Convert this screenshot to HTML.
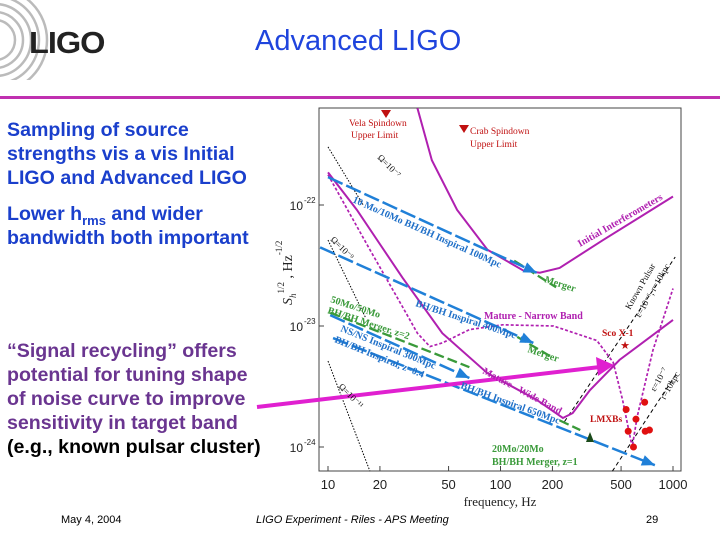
<!DOCTYPE html>
<html><head><meta charset="utf-8"><style>
body{margin:0;width:720px;height:540px;background:#fff;overflow:hidden;position:relative;font-family:"Liberation Sans",sans-serif}
.t{position:absolute;font-weight:bold;font-size:19.6px;line-height:24px;white-space:nowrap}
sub{line-height:0;font-size:13px}
</style></head><body>
<svg style="position:absolute;left:0;top:0" width="60" height="80">
<g fill="none" stroke="#bbb" stroke-width="2.5"><circle cx="-5" cy="40" r="20"/><circle cx="-5" cy="40" r="28"/><circle cx="-5" cy="40" r="36"/><circle cx="-5" cy="40" r="44"/><circle cx="-5" cy="40" r="52"/></g></svg>
<div style="position:absolute;left:29px;top:25px;font-size:31px;font-weight:bold;color:#222;letter-spacing:-1px;transform:scaleX(1.05);transform-origin:left">LIGO</div>
<div style="position:absolute;left:255px;top:25px;font-size:29px;color:#1f44dd">Advanced LIGO</div>
<div style="position:absolute;left:0;top:96px;width:720px;height:3px;background:#c030b0"></div>
<div class="t" style="left:7px;top:118px;color:#1a3fcc">Sampling of source<br>strengths vis a vis Initial<br>LIGO and Advanced LIGO</div>
<div class="t" style="left:7px;top:202px;color:#1a3fcc">Lower h<sub>rms</sub> and wider<br>bandwidth both important</div>
<div class="t" style="left:7px;top:339px;color:#6a3590">“Signal recycling” offers<br>potential for tuning shape<br>of noise curve to improve<br>sensitivity in target band<br><span style="color:#000">(e.g., known pulsar cluster)</span></div>
<div style="position:absolute;left:61px;top:514px;font-size:11px">May 4, 2004</div>
<div style="position:absolute;left:256px;top:514px;font-size:11px;font-style:italic">LIGO Experiment - Riles - APS Meeting</div>
<div style="position:absolute;left:646px;top:514px;font-size:11px">29</div>
<svg id="chart" style="position:absolute;left:0;top:0" width="720" height="540" font-family="Liberation Serif,serif"></svg>
<script>
const xTicks=[10,20,50,100,200,500,1000];
const yTicks=[-22,-23,-24];
const initialF=[33,40,56,84,135,169,220,393,1000];
const initialH=[-21.2,-21.63,-22.04,-22.37,-22.54,-22.56,-22.52,-22.29,-21.93];
const advF=[10,14.7,27,46,84,162,230,262,330,490,1000];
const advH=[-21.73,-22.04,-22.6,-23.06,-23.39,-23.61,-23.76,-23.72,-23.53,-23.28,-22.95];
const narrowF=[10,17.5,27,33,39,46,66,103,203,362,450,510,580,620,765,1000];
const narrowH=[-21.75,-22.37,-22.84,-23.06,-23.17,-23.14,-23.03,-22.99,-23.0,-23.12,-23.3,-23.61,-24.0,-23.75,-23.2,-22.69];
const inspF=[[10,162],[9,155],[10.3,66],[10.7,785]];
const inspH=[[-21.77,-22.56],[-22.35,-23.14],[-22.91,-23.43],[-23.1,-24.15]];
const mergF=[[120,210],[125,200],[10.3,66],[220,290]];
const mergH=[[-22.46,-22.68],[-23.09,-23.26],[-22.89,-23.34],[-23.78,-23.86]];
const omegaF=[[10,16],[10,16.5],[10,17.5]];
const omegaH=[[-21.52,-22.0],[-22.29,-22.93],[-23.29,-24.2]];
const pulsarF=[[235,1030],[445,1040]];
const pulsarH=[[-23.79,-22.43],[-24.2,-23.4]];
const lmxbF=[535,685,610,550,690,730,590];
const lmxbH=[-23.69,-23.63,-23.77,-23.87,-23.87,-23.86,-24.0];
const X=f=>328+172.5*Math.log10(f/10);
const Y=h=>205-121*(h+22);
const svg=document.getElementById('chart');
const NS='http://www.w3.org/2000/svg';
function mk(tag,attrs,name,parent){const e=document.createElementNS(NS,tag);for(const k in attrs)e.setAttribute(k,attrs[k]);


(parent||svg).appendChild(e);return e;}
function txt(x,y,s,o,name){const e=mk('text',Object.assign({x:x,y:y},o),name);e.textContent=s;return e;}
mk('rect',{x:319,y:108,width:362,height:363,fill:'none',stroke:'#444','stroke-width':1},'plot-frame');
xTicks.forEach(f=>{mk('line',{x1:X(f),x2:X(f),y1:471,y2:466,stroke:'#444'},'x-tick');
txt(X(f),489,String(f),{'text-anchor':'middle','font-size':13,'font-family':'Liberation Sans,sans-serif',fill:'#222'},'x-tick-label');});
yTicks.forEach(h=>{mk('line',{x1:319,x2:324,y1:Y(h),y2:Y(h),stroke:'#444'},'y-tick');
txt(303,Y(h)+5,'10',{'text-anchor':'end','font-size':12,'font-family':'Liberation Sans,sans-serif',fill:'#222'},'y-tick-label');
txt(304,Y(h)-2,String(h),{'font-size':8,'font-family':'Liberation Sans,sans-serif',fill:'#222'},'y-tick-exponent');});
txt(500,506,'frequency, Hz',{'text-anchor':'middle','font-size':13,fill:'#222'},'x-axis-title');
const yl=mk('text',{transform:'translate(292,305) rotate(-90)','font-size':14,fill:'#222'},'y-axis-title');
yl.innerHTML='<tspan font-style="italic">S</tspan><tspan font-size="9" dy="4" font-style="italic">h</tspan><tspan font-size="9" dy="-12">1/2</tspan><tspan dy="8"> , Hz</tspan><tspan font-size="9" dy="-10">-1/2</tspan>';
function poly(F,H,o,name){return mk('polyline',Object.assign({points:F.map((f,i)=>X(f)+','+Y(H[i])).join(' '),fill:'none'},o),name);}
omegaF.forEach((F,i)=>poly(F,omegaH[i],{stroke:'#000','stroke-width':1,'stroke-dasharray':'1.5 1.5'},'omega-line'));
pulsarF.forEach((F,i)=>poly(F,pulsarH[i],{stroke:'#000','stroke-width':1,'stroke-dasharray':'4 3'},'pulsar-line'));
poly(initialF,initialH,{stroke:'#b020b0','stroke-width':2},'initial-ligo-curve');
poly(advF,advH,{stroke:'#b020b0','stroke-width':2},'advanced-ligo-wideband-curve');
poly(narrowF,narrowH,{stroke:'#b020b0','stroke-width':1.7,'stroke-dasharray':'3 2'},'advanced-ligo-narrowband-curve');
mergF.forEach((F,i)=>poly(F,mergH[i],{stroke:'#3a9a3a','stroke-width':2.3,'stroke-dasharray':'10 4'},'merger-segment'));
inspF.forEach((F,i)=>{const x1=X(F[0]),y1=Y(inspH[i][0]),x2=X(F[1]),y2=Y(inspH[i][1]);
mk('line',{x1:x1,y1:y1,x2:x2,y2:y2,stroke:'#2080d8','stroke-width':2.5,'stroke-dasharray':'16 4'},'inspiral-line');
const a=Math.atan2(y2-y1,x2-x1),L=13,w=5.5;
mk('polygon',{points:`${x2},${y2} ${x2-L*Math.cos(a)+w*Math.sin(a)},${y2-L*Math.sin(a)-w*Math.cos(a)} ${x2-L*Math.cos(a)-w*Math.sin(a)},${y2-L*Math.sin(a)+w*Math.cos(a)}`,fill:'#2080d8'},'inspiral-arrowhead');});
mk('line',{x1:257,y1:407,x2:600,y2:367,stroke:'#e020d0','stroke-width':4},'signal-recycling-arrow');
mk('polygon',{points:'614,365 596,357 598,376',fill:'#e020d0'},'signal-recycling-arrowhead');
mk('polygon',{points:'381,110 391,110 386,118',fill:'#c01010'},'vela-marker');
mk('polygon',{points:'459,125 469,125 464,133',fill:'#c01010'},'crab-marker');
txt(625,349,'★',{'text-anchor':'middle','font-size':11,fill:'#c01010'},'sco-x1-marker');
lmxbF.forEach((f,i)=>mk('circle',{cx:X(f),cy:Y(lmxbH[i]),r:3.5,fill:'#e01010'},'lmxb-point'));
mk('polygon',{points:'590,432 594,442 586,442',fill:'#1a4a1a'},'bh-merger-marker');
const red={fill:'#c01010','font-size':9.5};
txt(349,126,'Vela Spindown',red,'vela-label');txt(351,138,'Upper Limit',red,'vela-label-2');
txt(470,134,'Crab Spindown',red,'crab-label');txt(470,147,'Upper Limit',red,'crab-label-2');
txt(602,336,'Sco X-1',Object.assign({'font-weight':'bold'},red),'sco-x1-label');
txt(590,422,'LMXBs',Object.assign({'font-weight':'bold'},red),'lmxb-label');
const blue={fill:'#2070c8','font-size':10,'font-weight':'bold'};
txt(0,0,'10 Mo/10Mo BH/BH Inspiral 100Mpc',Object.assign({transform:'translate(352,202) rotate(24)'},blue),'inspiral-100-label');
txt(0,0,'BH/BH Inspiral 400Mpc',Object.assign({transform:'translate(415,306) rotate(18)'},blue),'inspiral-400-label');
txt(0,0,'NS/NS Inspiral 300Mpc',Object.assign({transform:'translate(340,331) rotate(22)'},blue),'nsns-label');
txt(0,0,'BH/BH Inspiral, z=0.4',Object.assign({transform:'translate(334,342) rotate(22)'},blue),'bh-z04-label');
txt(0,0,'BH/BH Inspiral 650Mpc',Object.assign({transform:'translate(460,388) rotate(20)'},blue),'inspiral-650-label');
const grn={fill:'#3a9a3a','font-size':10,'font-weight':'bold'};
txt(0,0,'Merger',Object.assign({transform:'translate(544,282) rotate(18)'},grn),'merger-label-1');
txt(0,0,'Merger',Object.assign({transform:'translate(527,352) rotate(18)'},grn),'merger-label-2');
txt(0,0,'50Mo/50Mo',Object.assign({transform:'translate(330,302) rotate(18)'},grn),'bh50-label');
txt(0,0,'BH/BH Merger, z=2',Object.assign({transform:'translate(327,313) rotate(18)'},grn),'bh50-label-2');
txt(492,452,'20Mo/20Mo',grn,'bh20-label');txt(492,465,'BH/BH Merger, z=1',grn,'bh20-label-2');
const mag={fill:'#b020b0','font-size':10,'font-weight':'bold'};
txt(484,319,'Mature - Narrow Band',mag,'narrow-band-label');
txt(0,0,'Mature - Wide Band',Object.assign({transform:'translate(482,373) rotate(28)'},mag),'wide-band-label');
txt(0,0,'Initial Interferometers',Object.assign({transform:'translate(580,247) rotate(-30)'},mag),'initial-label');
const blk={fill:'#111','font-size':9};
txt(0,0,'Ω=10⁻⁷',Object.assign({transform:'translate(377,158) rotate(45)'},blk),'omega7-label');
txt(0,0,'Ω=10⁻⁹',Object.assign({transform:'translate(330,240) rotate(45)'},blk),'omega9-label');
txt(0,0,'Ω=10⁻¹¹',Object.assign({transform:'translate(338,387) rotate(45)'},blk),'omega11-label');
txt(0,0,'Known Pulsar',Object.assign({transform:'translate(630,310) rotate(-60)'},blk),'pulsar-label');
txt(0,0,'ε=10⁻⁶, r=10kpc',Object.assign({transform:'translate(640,318) rotate(-60)'},blk),'pulsar-label-2');
txt(0,0,'ε=10⁻⁷',Object.assign({transform:'translate(655,392) rotate(-60)'},blk),'pulsar7-label');
txt(0,0,'r=10kpc',Object.assign({transform:'translate(665,400) rotate(-60)'},blk),'pulsar7-label-2');
</script>
</body></html>
